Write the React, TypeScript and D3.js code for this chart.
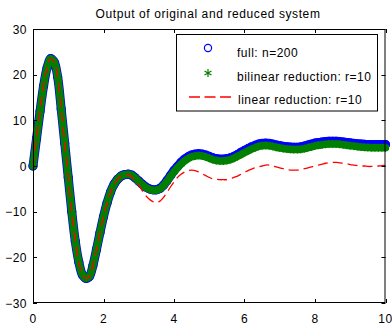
import React, { useEffect, useRef } from 'react';
import * as d3 from 'd3';

// simulation time grid (s)
const time = [
  0, 0.1, 0.2, 0.3, 0.4, 0.5, 0.6, 0.7, 0.8, 0.9,
  1, 1.1, 1.2, 1.3, 1.4, 1.5, 1.6, 1.7, 1.8, 1.9,
  2, 2.1, 2.2, 2.3, 2.4, 2.5, 2.6, 2.7, 2.8, 2.9,
  3, 3.1, 3.2, 3.3, 3.4, 3.5, 3.6, 3.7, 3.8, 3.9,
  4, 4.1, 4.2, 4.3, 4.4, 4.5, 4.6, 4.7, 4.8, 4.9,
  5, 5.1, 5.2, 5.3, 5.4, 5.5, 5.6, 5.7, 5.8, 5.9,
  6, 6.1, 6.2, 6.3, 6.4, 6.5, 6.6, 6.7, 6.8, 6.9,
  7, 7.1, 7.2, 7.3, 7.4, 7.5, 7.6, 7.7, 7.8, 7.9,
  8, 8.1, 8.2, 8.3, 8.4, 8.5, 8.6, 8.7, 8.8, 8.9,
  9, 9.1, 9.2, 9.3, 9.4, 9.5, 9.6, 9.7, 9.8, 9.9,
  10,
];

// full system, n=200
const fullOutput = [
  0, 6, 12, 17.5, 21.5, 23.5, 22.8, 19.5, 12.5, 5,
  -2.5, -10, -16.5, -21, -23.8, -24.6, -24.2, -21.8, -18.3, -14.6,
  -11.1, -8.1, -5.7, -4.0, -2.9, -2.2, -1.9, -1.8, -2.0, -2.6,
  -3.3, -4.0, -4.6, -5.0, -5.2, -5.2, -4.9, -4.2, -3.2, -2.1,
  -1.0, -0.1, 0.8, 1.5, 2.0, 2.4, 2.6, 2.7, 2.6, 2.4,
  2.1, 1.8, 1.6, 1.5, 1.5, 1.6, 1.8, 2.1, 2.5, 3.0,
  3.4, 3.8, 4.2, 4.5, 4.8, 4.95, 5.0, 4.95, 4.8, 4.6,
  4.45, 4.3, 4.2, 4.15, 4.1, 4.1, 4.2, 4.35, 4.6, 4.8,
  5.0, 5.15, 5.25, 5.35, 5.4, 5.4, 5.4, 5.35, 5.25, 5.15,
  5.05, 4.95, 4.85, 4.8, 4.75, 4.7, 4.7, 4.7, 4.7, 4.7,
  4.7,
];

// bilinear reduction, r=10
const bilinearOutput = [
  0, 6, 12, 17.5, 21.5, 23.5, 22.8, 19.5, 12.5, 5,
  -2.5, -10, -16.5, -21, -23.8, -24.6, -24.2, -21.8, -18.3, -14.6,
  -11.1, -8.1, -5.7, -4.0, -2.9, -2.2, -1.9, -1.8, -2.0, -2.6,
  -3.4, -4.1, -4.7, -5.1, -5.3, -5.3, -5.0, -4.3, -3.4, -2.3,
  -1.3, -0.4, 0.4, 1.1, 1.6, 2.0, 2.2, 2.3, 2.2, 2.0,
  1.7, 1.4, 1.2, 1.1, 1.1, 1.2, 1.4, 1.7, 2.1, 2.5,
  2.9, 3.3, 3.7, 4.0, 4.3, 4.45, 4.5, 4.45, 4.3, 4.1,
  3.95, 3.8, 3.7, 3.65, 3.6, 3.6, 3.65, 3.8, 4.0, 4.2,
  4.4, 4.55, 4.65, 4.75, 4.8, 4.8, 4.8, 4.75, 4.65, 4.55,
  4.45, 4.35, 4.25, 4.15, 4.1, 4.05, 4.0, 4.0, 4.0, 4.0,
  4.0,
];

// linear reduction, r=10
const linearOutput = [
  0, 6, 12, 17.5, 21.5, 23.5, 22.8, 19.5, 12.5, 5,
  -2.5, -10, -16.5, -21, -23.8, -24.6, -24.2, -21.8, -18.3, -14.6,
  -11.1, -8.1, -5.7, -4.0, -2.9, -2.2, -1.9, -1.9, -2.4, -3.2,
  -4.2, -5.4, -6.5, -7.3, -7.8, -8.0, -7.7, -6.9, -5.8, -4.6,
  -3.5, -2.5, -1.8, -1.3, -1.0, -0.9, -1.0, -1.3, -1.7, -2.1,
  -2.5, -2.8, -2.9, -3.0, -3.0, -3.0, -2.8, -2.5, -2.2, -1.8,
  -1.4, -1.0, -0.7, -0.4, -0.2, 0, 0.2, 0.2, 0, -0.2,
  -0.4, -0.6, -0.8, -0.9, -0.9, -0.9, -0.8, -0.6, -0.4, -0.2,
  0, 0.2, 0.4, 0.6, 0.7, 0.8, 0.8, 0.7, 0.6, 0.5,
  0.3, 0.2, 0.1, 0, 0, -0.1, -0.1, 0, 0, 0.1,
  0.1,
];

const xTicks = [0, 2, 4, 6, 8, 10];
const yTicks = [-30, -20, -10, 0, 10, 20, 30];
const legendLabels = ['full: n=200', 'bilinear reduction: r=10', 'linear reduction: r=10'];
const chartTitle = 'Output of original and reduced system';

const FONT = '"Liberation Sans", Arial, Helvetica, sans-serif';

const App = () => {
  const ref = useRef<SVGSVGElement>(null);

  useEffect(() => {
    const width = 392;
    const height = 325;
    const plot = { left: 33, right: 385.5, top: 29, bottom: 303 };

    const svg = d3.select(ref.current);
    svg.selectAll('*').remove();
    svg.attr('width', width).attr('height', height)
      .style('font-family', FONT);

    svg.append('rect').attr('width', width).attr('height', height).attr('fill', '#fff');

    const x = d3.scaleLinear().domain([0, 10]).range([plot.left, plot.right]);
    const y = d3.scaleLinear().domain([-30, 30]).range([plot.bottom, plot.top]);

    const pts = (vals: number[]) => time.map((t, i) => [t, vals[i]] as [number, number]);
    const line = d3.line<[number, number]>()
      .x(d => x(d[0]))
      .y(d => y(d[1]))
      .curve(d3.curveCatmullRom);

    const full = pts(fullOutput);
    const bil = pts(bilinearOutput);
    const lin = pts(linearOutput);

    // full system: blue circles (band)
    svg.append('path').datum(full)
      .attr('fill', 'none').attr('stroke', '#0000ff').attr('stroke-width', 9)
      .attr('stroke-linejoin', 'round').attr('stroke-linecap', 'round')
      .attr('d', line);
    svg.append('g').selectAll('circle').data(full).join('circle')
      .attr('cx', d => x(d[0])).attr('cy', d => y(d[1])).attr('r', 4)
      .attr('fill', 'none').attr('stroke', '#0000ff').attr('stroke-width', 1.2);

    // bilinear: green asterisks
    svg.append('path').datum(bil)
      .attr('fill', 'none').attr('stroke', '#007f00').attr('stroke-width', 7.5)
      .attr('stroke-linejoin', 'round').attr('stroke-linecap', 'round')
      .attr('d', line);
    const star = d3.symbol(d3.symbolAsterisk, 45)();
    svg.append('g').selectAll('path').data(bil).join('path')
      .attr('transform', d => `translate(${x(d[0])},${y(d[1])})`)
      .attr('d', star).attr('fill', 'none').attr('stroke', '#007f00').attr('stroke-width', 1);

    // linear: red dashed
    svg.append('path').datum(lin)
      .attr('fill', 'none').attr('stroke', '#ff0000').attr('stroke-width', 1.3)
      .attr('stroke-dasharray', '10,5')
      .attr('d', line);

    // axes box with inward ticks
    const tick = 4;
    const axes = svg.append('g').attr('stroke', '#000').attr('stroke-width', 1);
    axes.append('rect')
      .attr('x', plot.left + 0.5).attr('y', plot.top + 0.5)
      .attr('width', plot.right - plot.left - 1).attr('height', plot.bottom - plot.top - 1)
      .attr('fill', 'none');
    xTicks.forEach(t => {
      const px = Math.round(x(t)) + 0.5;
      axes.append('line').attr('x1', px).attr('x2', px).attr('y1', plot.bottom).attr('y2', plot.bottom - tick);
      axes.append('line').attr('x1', px).attr('x2', px).attr('y1', plot.top).attr('y2', plot.top + tick);
    });
    yTicks.forEach(t => {
      const py = Math.round(y(t)) + 0.5;
      axes.append('line').attr('x1', plot.left).attr('x2', plot.left + tick).attr('y1', py).attr('y2', py);
      axes.append('line').attr('x1', plot.right).attr('x2', plot.right - tick).attr('y1', py).attr('y2', py);
    });

    const labels = svg.append('g').attr('font-size', 12).attr('fill', '#000')
      .style('letter-spacing', '0.5px');
    labels.selectAll('text.xt').data(xTicks).join('text')
      .attr('class', 'xt')
      .attr('x', d => x(d)).attr('y', 323)
      .attr('text-anchor', 'middle')
      .text(d => d3.format('d')(d));
    labels.selectAll('text.yt').data(yTicks).join('text')
      .attr('class', 'yt')
      .attr('x', 27).attr('y', d => y(d) + 4.5)
      .attr('text-anchor', 'end')
      .text(d => d3.format('d')(d));

    svg.append('text')
      .attr('x', 208).attr('y', 18)
      .attr('text-anchor', 'middle').attr('font-size', 12)
      .style('letter-spacing', '0.6px')
      .text(chartTitle);

    // legend
    const lg = svg.append('g');
    lg.append('rect')
      .attr('x', 176.5).attr('y', 34.5).attr('width', 201).attr('height', 76.5)
      .attr('fill', '#fff').attr('stroke', '#000').attr('stroke-width', 1);
    lg.append('circle').attr('cx', 208).attr('cy', 48).attr('r', 3.6)
      .attr('fill', 'none').attr('stroke', '#0000ff').attr('stroke-width', 1.2);
    lg.append('path').attr('transform', 'translate(208,73)').attr('d', star)
      .attr('fill', 'none').attr('stroke', '#007f00').attr('stroke-width', 1.2);
    lg.append('line').attr('x1', 189).attr('x2', 232).attr('y1', 97).attr('y2', 97)
      .attr('stroke', '#ff0000').attr('stroke-width', 1.3).attr('stroke-dasharray', '11,4.5');
    const textY = [57, 80.5, 104];
    lg.selectAll('text').data(legendLabels).join('text')
      .attr('x', (_, i) => (i === 2 ? 238 : 237)).attr('y', (_, i) => textY[i])
      .attr('font-size', 12).style('letter-spacing', '0.5px')
      .text(d => d);
  }, []);

  return <svg ref={ref} style={{ position: 'absolute', left: 0, top: 0 }} />;
};

export default App;
